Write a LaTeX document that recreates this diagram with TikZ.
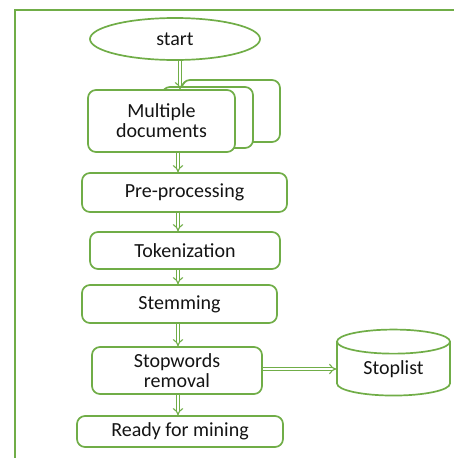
\documentclass[tikz,border=0pt]{standalone}
\usepackage{fontspec}
\setmainfont{Carlito}
\usepackage{tikz}
\usetikzlibrary{arrows.meta,shapes.geometric}
\definecolor{leaf}{RGB}{112,173,71}
\definecolor{ink}{RGB}{20,20,20}

\begin{document}
\begin{tikzpicture}[x=1pt,y=-1pt,
    font=\fontsize{20}{20}\selectfont, text=ink,
    box/.style={draw=leaf, line width=1.7pt, rounded corners=8pt, fill=white,
                align=center, inner sep=0pt},
    flow/.style={draw=leaf, line width=1.1pt, double=white, double distance=2.4pt,
                 -{Implies}}]
    \useasboundingbox (0,0) rectangle (454,458);
    % outline
    \draw [leaf, line width=1.8pt] (15,458) |- (454,10);
    \coordinate (spine) at (178,0);

    \node [draw=leaf, line width=1.7pt, ellipse, minimum width=170pt,
           minimum height=42pt, inner sep=0pt] (start) at (175,39) {start};
    % stacked documents
    \node [box, minimum width=98pt, minimum height=62pt] (docC) at (231,111) {};
    \node [box, minimum width=91pt, minimum height=61pt] (docB) at (207.5,117.5) {};
    \node [box, minimum width=147pt, minimum height=62pt] (docs) at (161.5,121)
          {Multiple\\documents};
    \node [box, minimum width=205pt, minimum height=39pt] (prep) at (184.5,192.5) {Pre-processing};
    \node [box, minimum width=190pt, minimum height=37pt] (token) at (185,250.5) {Tokenization};
    \node [box, minimum width=195pt, minimum height=38pt] (stem) at (179.5,304) {Stemming};
    \node [box, minimum width=170pt, minimum height=47pt] (stopw) at (177,370.5)
          {Stopwords\\removal};
    \node [box, minimum width=206pt, minimum height=31pt] (ready) at (180,431.5) {Ready for mining};
    \node [draw=leaf, line width=1.7pt, cylinder, shape border rotate=90, aspect=0.4,
           minimum width=113pt, minimum height=66pt, inner sep=0pt] (list) at (393.5,369) {Stoplist};

    \draw [flow] ([xshift=5pt]start.south) -- ([xshift=5pt]start.south |- docs.north);
    \draw [flow] (spine |- docs.south) -- (spine |- prep.north);
    \draw [flow] (spine |- prep.south) -- (spine |- token.north);
    \draw [flow] (spine |- token.south) -- (spine |- stem.north);
    \draw [flow] (spine |- stem.south) -- (spine |- stopw.north);
    \draw [flow] (spine |- stopw.south) -- (spine |- ready.north);
    \draw [flow] (stopw.east |- list.west) -- (list.west);
\end{tikzpicture}
\end{document}
